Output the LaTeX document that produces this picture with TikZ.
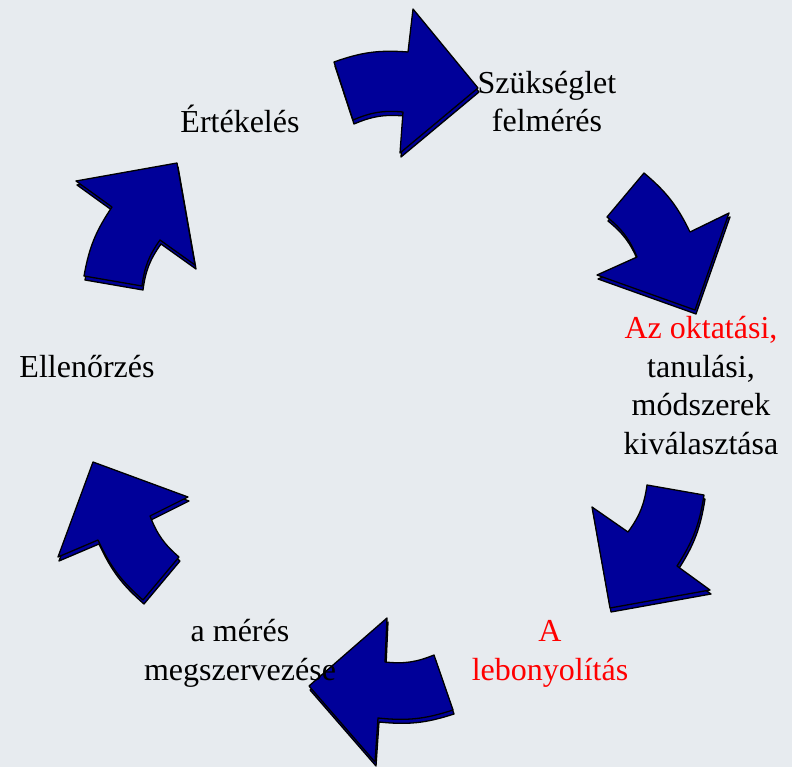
\documentclass[tikz,border=0pt]{standalone}
\usepackage{fontspec}
\setmainfont{Liberation Serif}
\definecolor{bgcol}{RGB}{231,235,239}
\definecolor{navy}{RGB}{0,0,153}
\tikzset{
  arrowbody/.style={fill=navy, draw=black, line width=1.3pt, line join=round},
  phase/.style={align=center, inner sep=0pt, anchor=base, font=\fontsize{32}{38.5}\selectfont},
}
% one curved block arrow: tail outer, neck outer, head outer, tip, head inner, neck inner, tail inner
\newcommand{\cyclearrow}[7]{%
  \draw[arrowbody, shift={(1,4)}] #1 to[bend left=12] #2 -- #3 -- #4 -- #5 -- #6 to[bend right=14] #7 -- cycle;
  \draw[arrowbody] #1 to[bend left=12] #2 -- #3 -- #4 -- #5 -- #6 to[bend right=14] #7 -- cycle;
}
\begin{document}
\begin{tikzpicture}[x=1pt, y=-1pt]
\fill[bgcol] (0,0) rectangle (792,767);
% arrows
\cyclearrow{(334,62)}{(408,52)}{(413,9)}{(478,88)}{(400,153)}{(403,112)}{(353,120)}
\cyclearrow{(644,173)}{(690,232)}{(729,213)}{(695,310)}{(597,275)}{(637,257)}{(607,217)}
\cyclearrow{(704,495)}{(677,566)}{(710,590)}{(610,608)}{(592,507)}{(628,532)}{(647,485)}
\cyclearrow{(453,710)}{(378,718)}{(375,762)}{(309,686)}{(387,618)}{(385,662)}{(434,655)}
\cyclearrow{(143,600)}{(98,540)}{(58,557)}{(93,462)}{(188,497)}{(150,516)}{(179,557)}
\cyclearrow{(84,276)}{(112,207)}{(76,181)}{(177,163)}{(195,265)}{(160,240)}{(142,286)}
% nodes (placed at the baseline of their last line)
\node[phase] (needs)   at (547,132) {Szükséglet\\felmérés};
\node[phase] (methods) at (701,454) {\textcolor{red}{Az oktatási,}\\tanulási,\\módszerek\\kiválasztása};
\node[phase, text=red] (delivery) at (550,680) {A\\lebonyolítás};
\node[phase] (organise) at (240,680) {a mérés\\megszervezése};
\node[phase] (control) at (87,377)  {Ellenőrzés};
\node[phase] (review)  at (240,133) {Értékelés};
\end{tikzpicture}
\end{document}
